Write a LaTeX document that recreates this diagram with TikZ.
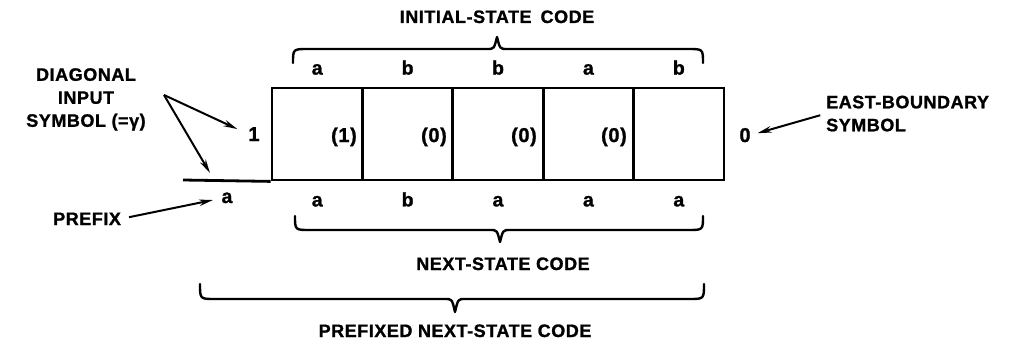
\documentclass[tikz,border=0pt]{standalone}
\usepackage{fontspec}
\setmainfont{Liberation Sans}[LetterSpace=3, BoldFeatures={FakeBold=1.2}]
\usetikzlibrary{arrows.meta}

% horizontal curly brace: x-from, x-to, y of the ends, y of the bar, tip x, tip y
\newcommand\hbrc[6]{%
  \draw[brc] (#1,#3) .. controls (#1,#4) .. (#1+15,#4) -- (#5-10,#4)
    .. controls (#5-3,#4) .. (#5,#6) .. controls (#5+3,#4) .. (#5+10,#4)
    -- (#2-15,#4) .. controls (#2,#4) .. (#2,#3);}

\begin{document}
\begin{tikzpicture}[x=1pt,y=-1pt,
  caps/.style={font=\fontsize{18}{23}\selectfont\bfseries, inner sep=0pt},
  digit/.style={font=\fontsize{20}{23}\selectfont\bfseries, inner sep=0pt},
  letter/.style={font=\fontsize{19.5}{22}\selectfont\bfseries, inner sep=0pt},
  cellbox/.style={draw, line width=2.8pt, minimum width=90.4pt, minimum height=92pt, inner sep=0pt},
  ptr/.style={line width=2pt, -{Stealth[length=14pt,width=6.5pt]}},
  brc/.style={line width=2.4pt, line cap=round, line join=round}]

\fill[white] (0,0) rectangle (1011,348);
\useasboundingbox (0,0) rectangle (1011,348);

% the five cells of the row
\node[cellbox] (c1) at (317.2,134) {};
\node[cellbox] (c2) at (407.6,134) {};
\node[cellbox] (c3) at (498.0,134) {};
\node[cellbox] (c4) at (588.4,134) {};
\node[cellbox] (c5) at (678.8,134) {};
\coordinate (lineend) at (183,180);
\draw[line width=2.8pt] (lineend) -- (c1.south west);

% initial-state symbols above, next-state symbols below
\foreach \i/\t/\b in {1/a/a,2/b/b,3/b/a,4/a/a,5/b/a}{
  \node[letter, anchor=base] (top\i) at ([yshift=12pt]c\i.north) {\t};
  \node[letter, anchor=base] (bot\i) at ([yshift=-25pt]c\i.south) {\b};
}
\node[letter, anchor=base] (pa) at (227,203) {a};

% values inside the cells
\node[digit, anchor=base east] (v1) at (357,142) {(1)};
\node[digit, anchor=base east] (v2) at (447,142) {(0)};
\node[digit, anchor=base east] (v3) at (537,142) {(0)};
\node[digit, anchor=base east] (v4) at (627,142) {(0)};

% boundary symbols
\node[digit, anchor=base] (one) at (254,141) {1};
\node[digit, anchor=base] (zero) at (745,142) {0};

% braces and their captions
\hbrc{293}{703}{63}{49}{497}{37}
\node[caps, anchor=base] (isc) at (497,23) {INITIAL-STATE\hspace{0.5em}CODE};
\hbrc{295}{703}{216}{230}{500}{242}
\node[caps, anchor=base] (nsc) at (503,270) {NEXT-STATE CODE};
\hbrc{200}{704}{284}{299}{455}{312}
\node[caps, anchor=base] (pnsc) at (455,337) {PREFIXED NEXT-STATE CODE};

% side labels
\node[caps, align=center, anchor=north] (dg) at (86,68)
  {DIAGONAL\\INPUT\\SYMBOL (=γ)};
\node[caps, anchor=base west] (pfx) at (53,225) {PREFIX};
\node[caps, align=left, anchor=north west] (eb) at (826,95.5)
  {EAST-BOUNDARY\\SYMBOL};

% pointers
\coordinate (dgo) at (164,95);
\coordinate (dgtip) at (210,173);
\coordinate (pfxtip) at (213,200);
\draw[ptr, shorten >=12pt] (dgo) -- (one.west);
\draw[ptr] (dgo) -- (dgtip);
\draw[ptr, shorten <=8pt] (pfx.east) -- (pfxtip);
\draw[ptr, shorten <=6pt, shorten >=7pt] (eb.west) -- (zero.east);
\end{tikzpicture}
\end{document}
